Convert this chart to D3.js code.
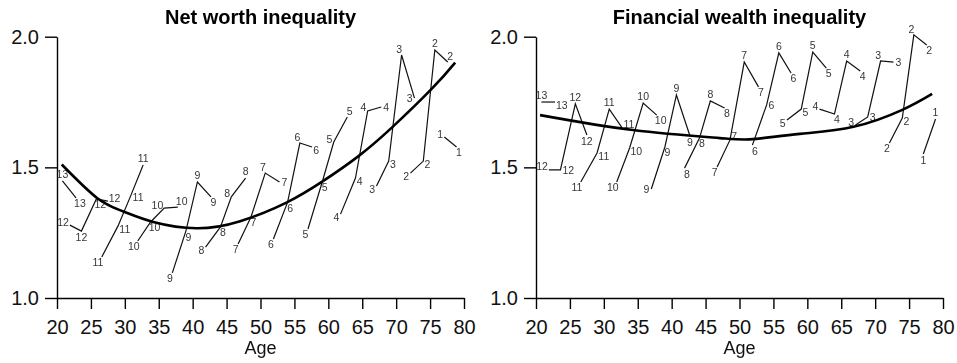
<!DOCTYPE html>
<html>
<head>
<meta charset="utf-8">
<script src="https://cdn.jsdelivr.net/npm/d3@7"></script>
<style>
    body { margin: 0; background: #fff; }
    svg { display: block; font-family: "Liberation Sans", Arial, sans-serif; }
    .domain, .tick line { stroke: #000; stroke-width: 1.4px; }
    .tick text { font-size: 20px; fill: #111; font-family: "Liberation Sans", Arial, sans-serif; }
    .labels { opacity: 0.99; will-change: transform; }
</style>
</head>
<body>
<div id="chart"></div>
<script>
// cohorts, numbered 1 (oldest) to 13 (youngest)
const cohorts = [1, 2, 3, 4, 5, 6, 7, 8, 9, 10, 11, 12, 13];

// age of each cohort at the survey waves it is observed in
const waveAges = [
    [77.1, 78.9],
    [72.1, 74.0, 75.7, 77.6],
    [67.1, 68.9, 70.8, 72.7],
    [61.8, 64.0, 65.8, 67.8],
    [57.0, 59.1, 60.8, 62.8],
    [51.9, 54.0, 55.8, 57.6],
    [46.7, 48.6, 50.7, 52.8],
    [41.9, 44.1, 45.7, 47.8],
    [37.0, 39.0, 40.7, 42.7],
    [31.9, 33.8, 35.8, 37.8],
    [26.6, 29.0, 30.8, 32.7],
    [21.9, 23.6, 25.8, 27.5],
    [20.8, 22.8]
];

const netWorth = [
    [1.616, 1.578],
    [1.478, 1.524, 1.949, 1.903],
    [1.429, 1.524, 1.930, 1.765],
    [1.321, 1.459, 1.716, 1.731],
    [1.264, 1.444, 1.597, 1.693],
    [1.226, 1.367, 1.593, 1.578],
    [1.207, 1.310, 1.478, 1.444],
    [1.195, 1.272, 1.387, 1.459],
    [1.096, 1.256, 1.444, 1.387],
    [1.218, 1.291, 1.344, 1.348],
    [1.157, 1.276, 1.387, 1.509],
    [1.279, 1.256, 1.379, 1.371],
    [1.448, 1.383]
];

const finWealth = [
    [1.551, 1.685],
    [1.593, 1.689, 2.007, 1.968],
    [1.662, 1.693, 1.907, 1.903],
    [1.723, 1.704, 1.907, 1.869],
    [1.681, 1.723, 1.941, 1.880],
    [1.585, 1.739, 1.938, 1.861],
    [1.501, 1.605, 1.903, 1.808],
    [1.497, 1.612, 1.754, 1.727],
    [1.417, 1.578, 1.777, 1.620],
    [1.444, 1.574, 1.746, 1.700],
    [1.444, 1.555, 1.723, 1.651],
    [1.490, 1.490, 1.743, 1.624],
    [1.750, 1.750]
];

// fitted age profiles
const netWorthFitAge = [20.7, 25.9, 29.7, 34.2, 40.6, 47.0, 53.9, 59.2, 64.4, 69.4, 75.3, 78.7];
const netWorthFit = [1.511, 1.383, 1.332, 1.291, 1.267, 1.294, 1.366, 1.447, 1.542, 1.653, 1.802, 1.901];
const finWealthFitAge = [20.6, 34.3, 47.1, 52.0, 58.9, 66.8, 74.0, 78.4];
const finWealthFit = [1.700, 1.643, 1.612, 1.608, 1.628, 1.655, 1.720, 1.781];

const ageTicks = [20, 25, 30, 35, 40, 45, 50, 55, 60, 65, 70, 75, 80];
const valueTicks = [1.0, 1.5, 2.0];

// clock position of each marker label (like a label-position variable)
const netWorthLabelPos = [
    [10, 5], [8, 4, 12, 1], [8, 4, 11, 9], [8, 4, 10, 3], [7, 5, 10, 1],
    [7, 5, 11, 4], [7, 5, 11, 3], [8, 5, 10, 12], [7, 5, 12, 5], [7, 5, 10, 1],
    [7, 4, 3, 12], [10, 6, 5, 2], [12, 5]
];
const finWealthLabelPos = [
    [6, 12], [7, 4, 11, 5], [10, 3, 11, 3], [10, 5, 12, 5], [8, 4, 12, 5],
    [5, 3, 12, 5], [7, 2, 12, 5], [5, 5, 12, 5], [9, 5, 12, 6], [7, 4, 12, 5],
    [7, 4, 12, 2], [10, 3, 12, 6], [12, 4]
];

const width = 957;
const height = 363;

const svg = d3.select("#chart")
    .append("svg")
    .attr("width", width)
    .attr("height", height);

drawPanel({
    title: "Net worth inequality",
    values: netWorth,
    fitAge: netWorthFitAge,
    fit: netWorthFit,
    labelPos: netWorthLabelPos,
    left: 57,
    right: 464
});

drawPanel({
    title: "Financial wealth inequality",
    values: finWealth,
    fitAge: finWealthFitAge,
    fit: finWealthFit,
    labelPos: finWealthLabelPos,
    left: 536,
    right: 943
});

function drawPanel(p) {
    const bottom = 298;
    const top = 36.7;

    const x = d3.scaleLinear().domain([20, 80]).range([p.left, p.right]);
    const y = d3.scaleLinear().domain([1, 2]).range([bottom, top]);

    const g = svg.append("g");

    g.append("g")
        .attr("transform", `translate(0,${bottom})`)
        .call(d3.axisBottom(x).tickValues(ageTicks).tickSize(11).tickPadding(11).tickSizeOuter(0));

    g.append("g")
        .attr("transform", `translate(${p.left},0)`)
        .call(d3.axisLeft(y).tickValues(valueTicks).tickFormat(d3.format(".1f"))
            .tickSize(12).tickPadding(6).tickSizeOuter(0));

    const line = d3.line()
        .x(d => x(d[0]))
        .y(d => y(d[1]));

    // one connected line per cohort
    const series = cohorts.map((c, i) => ({
        cohort: c,
        points: waveAges[i].map((a, j) => [a, p.values[i][j], p.labelPos[i][j]])
    }));

    g.selectAll(".cohort")
        .data(series)
        .enter()
        .append("path")
        .attr("class", "cohort")
        .attr("d", d => line(d.points))
        .attr("fill", "none")
        .attr("stroke", "#111")
        .attr("stroke-width", 1.2);

    // marker labels (cohort number), offset by clock position
    const labels = series.flatMap(s => s.points.map(pt => ({ cohort: s.cohort, pt: pt })));
    g.append("g")
        .attr("class", "labels")
        .selectAll(".pt-label")
        .data(labels)
        .enter()
        .append("text")
        .attr("class", "pt-label")
        .attr("x", d => {
            const ang = d.pt[2] * Math.PI / 6;
            const half = String(d.cohort).length * 2.9 + 2;
            return x(d.pt[0]) + Math.sin(ang) * half;
        })
        .attr("y", d => {
            const ang = d.pt[2] * Math.PI / 6;
            return y(d.pt[1]) - Math.cos(ang) * 6.5;
        })
        .attr("dy", "0.36em")
        .attr("text-anchor", "middle")
        .attr("font-size", "10.5px")
        .attr("fill", "#333")
        .text(d => d.cohort);

    // fitted age profile
    const fitPts = p.fitAge.map((a, i) => [a, p.fit[i]]);
    g.append("path")
        .attr("d", line.curve(d3.curveNatural)(fitPts))
        .attr("fill", "none")
        .attr("stroke", "#000")
        .attr("stroke-width", 2.6);

    g.append("text")
        .attr("x", (p.left + p.right) / 2)
        .attr("y", 24)
        .attr("text-anchor", "middle")
        .attr("font-size", "20px")
        .attr("font-weight", "bold")
        .attr("fill", "#000")
        .text(p.title);

    g.append("text")
        .attr("x", (p.left + p.right) / 2)
        .attr("y", 354)
        .attr("text-anchor", "middle")
        .attr("font-size", "18px")
        .attr("fill", "#111")
        .text("Age");
}
</script>
</body>
</html>
